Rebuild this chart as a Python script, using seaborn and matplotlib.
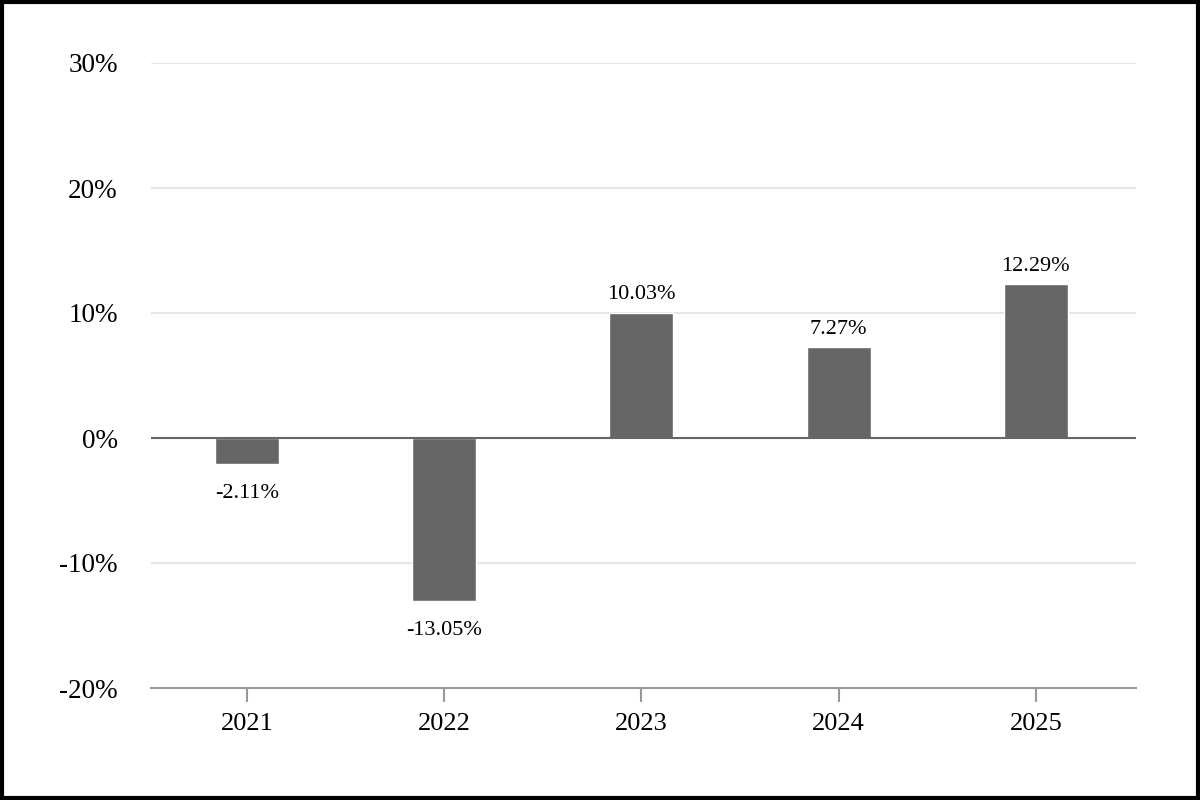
import matplotlib
matplotlib.use("Agg")
import matplotlib.pyplot as plt
import seaborn as sns
import pandas as pd
from matplotlib.patches import Rectangle

years = ["2021", "2022", "2023", "2024", "2025"]
returns = [-2.11, -13.05, 10.03, 7.27, 12.29]
yticks = [-20, -10, 0, 10, 20, 30]
ytick_labels = ["-20%", "-10%", "0%", "10%", "20%", "30%"]

sns.set_theme(style="white")
plt.rcParams["font.family"] = ["Liberation Serif", "DejaVu Serif"]

df = pd.DataFrame({"year": years, "ret": returns})

fig = plt.figure(figsize=(12, 8), dpi=100)
ax = fig.add_axes([151 / 1200, 1 - 688 / 800, (1136 - 151) / 1200, (688 - 63) / 800])

sns.barplot(data=df, x="year", y="ret", color="#666666", width=0.325,
            saturation=1, ax=ax, zorder=3)

ax.set_ylim(-20, 30)
ax.set_xlim(-0.487, 4.508)
ax.set_yticks(yticks)
ax.set_yticklabels(ytick_labels)
ax.set_xlabel("")
ax.set_ylabel("")

for y in [-10, 10, 20, 30]:
    ax.axhline(y, color="#e6e6e6", lw=1.5, zorder=1)
ax.axhline(0, color="#666666", lw=1.5, zorder=4)

for s in ["top", "right", "left"]:
    ax.spines[s].set_visible(False)
ax.spines["bottom"].set_color("#999999")
ax.spines["bottom"].set_linewidth(1.5)

ax.tick_params(axis="x", length=10, width=1.5, color="#999999", labelsize=19,
               pad=8, labelcolor="black", bottom=True)
ax.tick_params(axis="y", length=0, labelsize=19.5, pad=24, labelcolor="black")

for bar, v in zip(ax.containers[0], returns):
    xc = bar.get_x() + bar.get_width() / 2
    off = 9.5 if v >= 0 else -24.5
    ax.annotate(f"{v:.2f}%", xy=(xc, v), xytext=(0, off), textcoords="offset points",
                ha="center", va="baseline", fontsize=16, color="black", zorder=5)

fig.patches.append(Rectangle((0.0017, 0.0026), 0.9966, 0.9948, transform=fig.transFigure,
                             fill=False, edgecolor="black", lw=3))

fig.savefig("out.png", dpi=100, facecolor="white")
